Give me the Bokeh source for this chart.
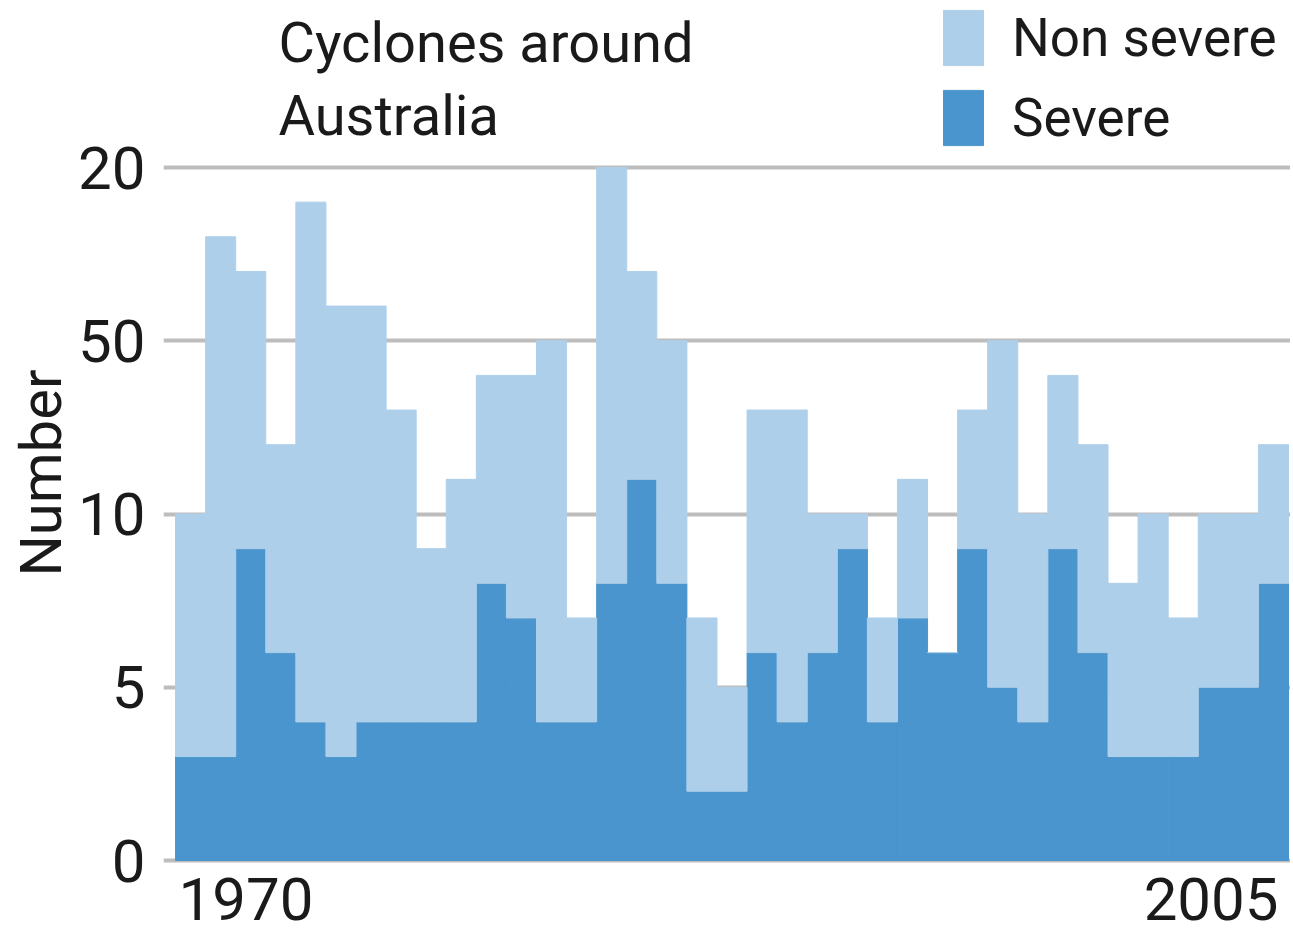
from bokeh.plotting import figure
from bokeh.models import (ColumnDataSource, Label, Legend, LegendItem,
                          FixedTicker, Range1d)
from bokeh.embed import file_html
from bokeh.resources import INLINE

# ---- data ----
years = list(range(1969, 2006))  # 37 seasons
severe = [3, 3, 9, 6, 4, 3, 4, 4, 4, 4, 8, 7, 4, 4, 8, 11, 8, 2, 2, 6, 4, 6,
          9, 4, 7, 6, 9, 5, 4, 9, 6, 3, 3, 3, 5, 5, 8]
total = [10, 18, 17, 12, 19, 16, 16, 13, 9, 11, 14, 14, 15, 7, 20, 17, 15, 7,
         5, 13, 13, 10, 10, 7, 11, 6, 13, 15, 10, 14, 12, 8, 10, 7, 10, 10, 12]
non_severe = [t - s for t, s in zip(total, severe)]

y_ticks = [0, 5, 10, 15, 20]
y_tick_labels = ["0", "5", "10", "50", "20"]
x_tick_labels = ["1970", "2005"]
series_names = ["Non severe", "Severe"]
title_text = "Cyclones around\nAustralia"
y_label = "Number"

# ---- style ----
FONT = "Roboto"
LIGHT = "#aecfea"
DARK = "#4a95cd"
TXT = "#1a1a1a"

src = ColumnDataSource(dict(year=years, severe=severe, non_severe=non_severe))

p = figure(width=1290, height=945, output_backend="svg", toolbar_location=None,
           x_range=Range1d(years[0] - 0.9, years[-1] + 0.566),
           y_range=Range1d(-2.453, 24.82),
           min_border_left=163, min_border_right=0, min_border_top=0,
           min_border_bottom=0)
p.outline_line_color = None
p.background_fill_color = "white"

rs = p.vbar_stack(["severe", "non_severe"], x="year", width=1.0, source=src,
                  fill_color=[DARK, LIGHT], line_color=[DARK, LIGHT],
                  line_width=1)

p.xgrid.visible = False
p.ygrid.ticker = FixedTicker(ticks=y_ticks)
p.ygrid.grid_line_color = "#bdbdbd"
p.ygrid.grid_line_width = 4

p.xaxis.visible = False
ya = p.yaxis[0]
ya.ticker = FixedTicker(ticks=y_ticks)
ya.major_label_overrides = {t: l for t, l in zip(y_ticks, y_tick_labels)}
ya.axis_line_color = None
ya.major_tick_line_color = None
ya.minor_tick_line_color = None
ya.major_label_text_font = FONT
ya.major_label_text_font_size = "60px"
ya.major_label_text_color = TXT
ya.major_label_standoff = 12
ya.axis_label = y_label
ya.axis_label_text_font = FONT
ya.axis_label_text_font_size = "58px"
ya.axis_label_text_font_style = "normal"
ya.axis_label_text_color = TXT
ya.axis_label_standoff = 0

# year labels at the two ends of the bar run
p.add_layout(Label(x=years[0] - 0.5, y=0, text=x_tick_labels[0],
                   text_align="left", text_baseline="top", y_offset=-17,
                   x_offset=3,
                   text_font=FONT, text_font_size="60px", text_color=TXT))
p.add_layout(Label(x=years[-1] + 0.5, y=0, text=x_tick_labels[1],
                   text_align="right", text_baseline="top", y_offset=-17,
                   x_offset=-10,
                   text_font=FONT, text_font_size="60px", text_color=TXT))

# chart title
p.add_layout(Label(x=115, y=936, x_units="screen", y_units="screen",
                   text=title_text, text_align="left", text_baseline="top",
                   text_line_height=1.11, text_font=FONT,
                   text_font_size="56px", text_color=TXT))

legend = Legend(items=[LegendItem(label=series_names[0], renderers=[rs[1]]),
                       LegendItem(label=series_names[1], renderers=[rs[0]])],
                location=(775, 793), orientation="vertical",
                glyph_width=50, glyph_height=69, label_standoff=24,
                spacing=11, padding=0, margin=0,
                border_line_color=None, background_fill_alpha=0,
                label_text_font=FONT, label_text_font_size="53px",
                label_text_color=TXT)
p.add_layout(legend)

open("out.html", "w").write(file_html(p, INLINE))
